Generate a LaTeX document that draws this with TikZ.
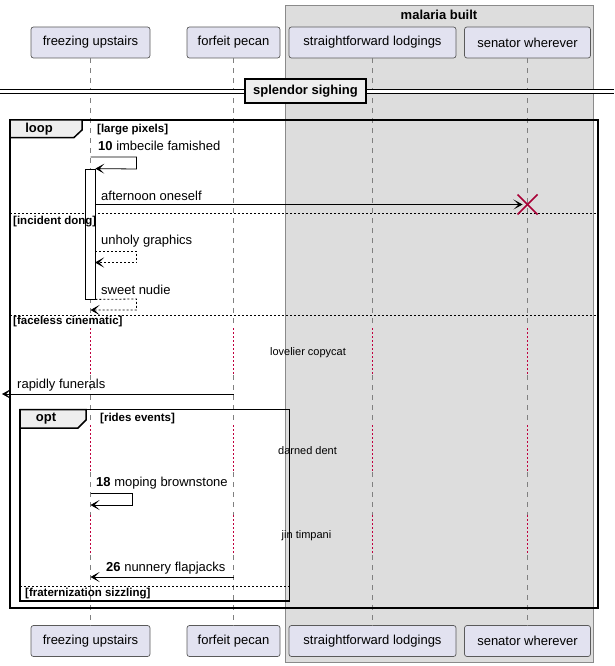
\documentclass[tikz,border=0pt]{standalone}
\usepackage{fontspec}
\setmainfont{Liberation Sans}
\usetikzlibrary{arrows.meta}
\definecolor{partfill}{HTML}{E2E2F0}
\definecolor{partdraw}{HTML}{5A5A5A}
\definecolor{boxfill}{HTML}{DDDDDD}
\definecolor{boxdraw}{HTML}{8A8A8A}
\definecolor{tabfill}{HTML}{EEEEEE}
\definecolor{crimson}{HTML}{A80036}
\definecolor{dotred}{HTML}{C0003E}
\definecolor{lifegray}{HTML}{808080}
\tikzset{
 part/.style={draw=partdraw, fill=partfill, rounded corners=2.5pt, line width=0.7pt, inner sep=0pt, minimum height=31pt, font=\fontsize{13}{15}\selectfont},
 life/.style={draw=lifegray, line width=0.7pt, dash pattern=on 5pt off 5pt},
 delayline/.style={draw=dotred, line width=1.3pt, dash pattern=on 1.5pt off 2.5pt},
 msg/.style={draw=black, line width=0.8pt, -{Stealth[length=9pt,width=10pt,inset=5pt]}},
 retmsg/.style={msg, dash pattern=on 2pt off 2pt},
 msgtxt/.style={anchor=west, inner sep=0pt, font=\fontsize{13}{15}\selectfont},
 guardtxt/.style={anchor=west, inner sep=0pt, font=\fontsize{11.5}{13}\selectfont\bfseries},
 framebox/.style={draw=black, line width=1.5pt},
 tabbox/.style={draw=black, fill=tabfill, line width=1.5pt},
 sepline/.style={draw=black, line width=0.7pt, dash pattern=on 2pt off 2pt},
 delaytxt/.style={inner sep=0pt, font=\fontsize{11}{13}\selectfont},
 actbar/.style={draw=black, fill=white, line width=0.8pt, minimum width=10pt, inner sep=0pt},
 destroyx/.style={draw=crimson, line width=1.6pt},
}
\begin{document}
\begin{tikzpicture}[x=1pt,y=-1pt]
\useasboundingbox (0,0) rectangle (614,666);
% group box
\node[draw=boxdraw, fill=boxfill, line width=0.7pt, minimum width=308pt, minimum height=657pt, inner sep=0pt] (grp) at (439,333.5) {};
\node[inner sep=0pt, font=\fontsize{13}{15}\selectfont\bfseries] (grplabel) at (439,14.5) {malaria built};
% participants
\node[part, minimum width=119pt] (fu) at (90.5,42.5) {freezing upstairs};
\node[part, minimum width=93pt] (fp) at (233.5,42.5) {forfeit pecan};
\node[part, minimum width=167pt] (sl) at (372.5,42.5) {straightforward lodgings};
\node[part, minimum width=126pt] (sw) at (527.5,42.5) {senator wherever};
\node[part, minimum width=119pt] (fub) at (90.5,641) {freezing upstairs};
\node[part, minimum width=93pt] (fpb) at (233.5,641) {forfeit pecan};
\node[part, minimum width=167pt] (slb) at (372.5,641) {straightforward lodgings};
\node[part, minimum width=126pt] (swb) at (527.5,641) {senator wherever};
% lifelines
\foreach \p/\q/\xx in {fu/fub/90.5, fp/fpb/233.5, sl/slb/372.5, sw/swb/527.5}{
  \draw[life] (\p.south) -- (\xx,328);
  \draw[delayline] (\xx,328) -- (\xx,375);
  \draw[life] (\xx,375) -- (\xx,425);
  \draw[delayline] (\xx,425) -- (\xx,472);
  \draw[life] (\xx,472) -- (\xx,515);
  \draw[delayline] (\xx,515) -- (\xx,555);
  \draw[life] (\xx,555) -- (\q.north);
}
% divider
\fill[white] (0,89) rectangle (614,93);
\draw[line width=0.8pt] (0,89) -- (614,89) (0,93) -- (614,93);
\node[draw=black, fill=tabfill, line width=2pt, minimum width=121pt, minimum height=24pt, inner sep=0pt, font=\fontsize{13}{15}\selectfont\bfseries] (div) at (305.5,91) {splendor sighing};
% loop frame
\draw[framebox] (10,120) rectangle (598,608);
\draw[tabbox] (10,120) -- (82,120) -- (82,130) -- (74,137.5) -- (10,137.5) -- cycle;
\node[inner sep=0pt, font=\fontsize{13}{15}\selectfont\bfseries] (looplbl) at (39,129) {loop};
\node[guardtxt] (g1) at (97,130) {[large pixels]};
\draw[sepline] (10,213.5) -- (598,213.5);
\draw[sepline] (10,315.5) -- (598,315.5);
% activation
\node[actbar, minimum height=130pt] (act) at (90,234) {};
\node[guardtxt] (g2) at (13,221.5) {[incident dong]};
\node[guardtxt] (g3) at (13,322) {[faceless cinematic]};
% message 10
\coordinate (s10a) at (90.5,157);
\coordinate (s10b) at (136.5,157);
\coordinate (s10c) at (136.5,169);
\coordinate (s10d) at (act.north east);
\draw[msg] (s10a) -- (s10b) -- (s10c) -- (s10d);
\node[msgtxt] (t10) at (98,146) {\textbf{10} imbecile famished};
% afternoon oneself
\coordinate (xc) at (527.5,204.5);
\coordinate (afs) at (95,204.5);
\draw[msg] (afs) -- ([xshift=-5pt]xc);
\node[msgtxt] (taf) at (101,196) {afternoon oneself};
\draw[destroyx] ([xshift=-10pt,yshift=-10pt]xc) -- ([xshift=10pt,yshift=10pt]xc);
\draw[destroyx] ([xshift=-10pt,yshift=10pt]xc) -- ([xshift=10pt,yshift=-10pt]xc);
% unholy graphics
\coordinate (uga) at (95,251);
\coordinate (ugb) at (136.5,251);
\coordinate (ugc) at (136.5,262.5);
\coordinate (ugd) at (95,262.5);
\draw[retmsg] (uga) -- (ugb) -- (ugc) -- (ugd);
\node[msgtxt] (tug) at (101,241) {unholy graphics};
% sweet nudie
\coordinate (sna) at (act.south east);
\coordinate (snb) at (136.5,299);
\coordinate (snc) at (136.5,310);
\coordinate (snd) at (90.5,310);
\draw[retmsg] (sna) -- (snb) -- (snc) -- (snd);
\node[msgtxt] (tsn) at (101,290) {sweet nudie};
% delay text
\node[delaytxt] (d1) at (308,352.5) {lovelier copycat};
% rapidly funerals
\coordinate (rfa) at (233.5,394);
\coordinate (rfb) at (2,394);
\draw[msg] (rfa) -- (rfb);
\node[msgtxt] (trf) at (17,385) {rapidly funerals};
% opt frame
\draw[framebox] (20,409.5) rectangle (289.5,601);
\draw[tabbox] (20,409.5) -- (86,409.5) -- (86,420) -- (78,428) -- (20,428) -- cycle;
\node[inner sep=0pt, font=\fontsize{13}{15}\selectfont\bfseries] (optlbl) at (46,419) {opt};
\node[guardtxt] (g4) at (100,419) {[rides events]};
\node[delaytxt] (d2) at (307.5,450.5) {darned dent};
% 18 moping brownstone
\coordinate (m18a) at (90.5,493);
\coordinate (m18b) at (132,493);
\coordinate (m18c) at (132,505);
\coordinate (m18d) at (90.5,505);
\draw[msg] (m18a) -- (m18b) -- (m18c) -- (m18d);
\node[msgtxt] (t18) at (96,483) {\textbf{18} moping brownstone};
\node[delaytxt] (d3) at (306.5,536) {jin timpani};
% 26 nunnery flapjacks
\coordinate (m26a) at (233.5,577);
\coordinate (m26b) at (90.5,577);
\draw[msg] (m26a) -- (m26b);
\node[msgtxt] (t26) at (106,568) {\textbf{26} nunnery flapjacks};
\draw[sepline] (20,586) -- (289.5,586);
\node[guardtxt] (g5) at (25,594) {[fraternization sizzling]};
\end{tikzpicture}
\end{document}
